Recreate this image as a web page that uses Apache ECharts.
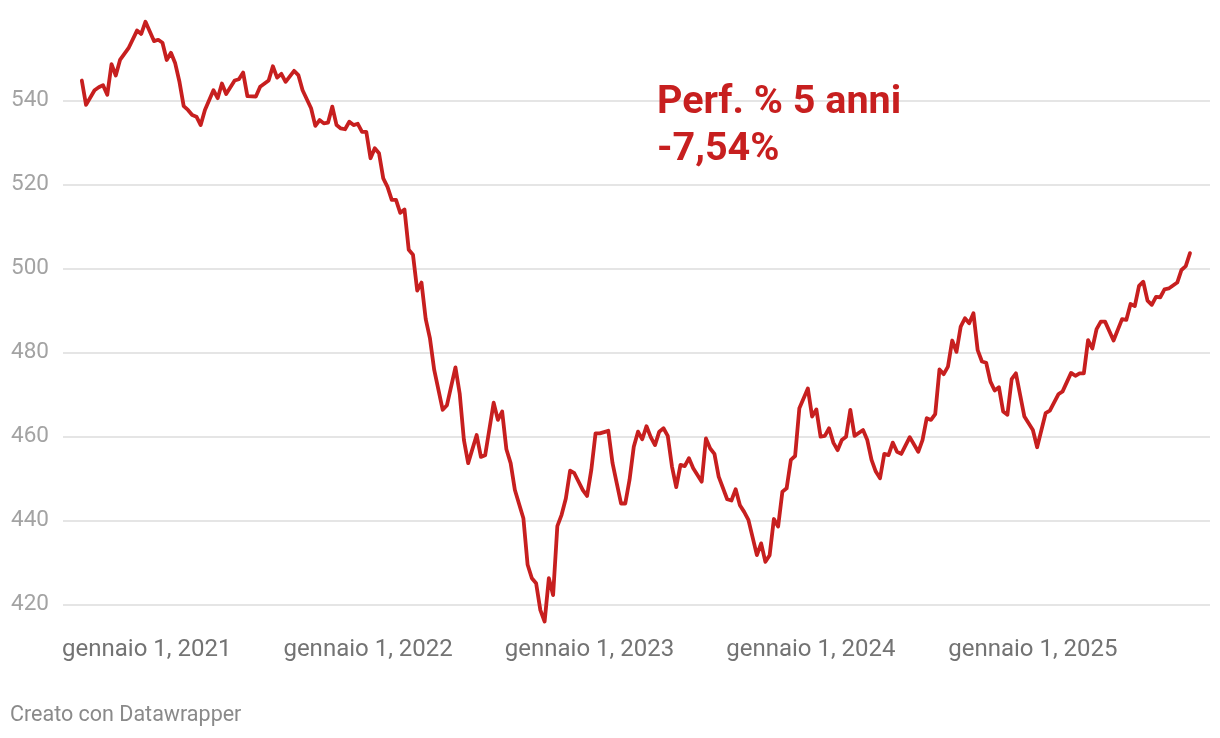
<!DOCTYPE html>
<html>
<head>
<meta charset="utf-8">
<style>
  html, body { margin: 0; padding: 0; background: #ffffff; }
  #chart { width: 1220px; height: 738px; }
</style>
<script src="https://cdn.jsdelivr.net/npm/echarts@6/dist/echarts.min.js"></script>
</head>
<body>
<div id="chart"></div>
<script>
// Weekly closes, starting the week of 16 Sept 2020 (week index 0)
const startDate = [2020, 8, 16];
const weekIndex = [0,1,3,4,5,6,7,8,9,11,13,14,15,17,18,19,20,21,22,23,24,25,26,27,28,29,31,32,33,34,36,37,38,39,41,42,44,45,46,47,48,50,51,52,54,55,56,57,58,59,60,61,62,63,64,65,66,67,68,69,70,71,72,73,74,75,76,77,78,79,80,81,82,83,85,86,88,89,90,91,93,94,95,97,98,99,100,101,102,104,105,106,107,108,109,110,111,112,113,114,115,116,118,119,120,121,122,124,125,126,127,128,129,130,131,132,133,134,135,136,137,138,139,140,141,142,143,144,146,147,148,149,150,152,153,154,155,156,157,159,160,161,162,163,164,165,166,167,168,169,171,172,173,174,175,176,177,178,179,180,181,182,184,185,186,187,188,189,190,191,192,193,195,197,198,199,200,201,202,203,204,205,206,207,208,209,210,211,212,213,214,215,216,217,218,219,220,222,223,224,225,227,228,230,231,233,234,235,236,237,238,239,240,241,243,245,246,247,248,249,250,251,252,253,254,255,256,258,259,260,261];
const closeValues = [544.8,539.0,542.5,543.2,543.7,541.4,548.7,546.0,549.7,552.5,556.7,555.9,558.8,554.2,554.5,553.8,549.7,551.4,548.9,544.5,538.7,537.8,536.6,536.2,534.2,537.8,542.5,540.6,544.1,541.6,544.8,545.1,546.7,541.1,541.0,543.3,544.8,548.2,545.5,546.4,544.5,547.1,546.1,542.5,538.2,534.0,535.4,534.6,534.8,538.6,534.2,533.4,533.2,535.0,534.2,534.5,532.6,532.6,526.3,528.7,527.5,521.5,519.5,516.4,516.4,513.3,514.1,504.5,503.3,494.8,496.7,488.0,483.4,475.9,466.4,467.5,476.5,470.3,459.2,453.7,460.4,455.2,455.6,468.1,464.0,466.0,457.0,453.7,447.3,440.6,429.5,426.3,425.1,418.7,416.0,426.3,422.3,438.7,441.4,445.3,451.9,451.3,447.3,445.9,452.1,460.8,460.8,461.4,453.7,448.9,444.1,444.1,449.7,457.6,461.2,459.4,462.5,459.9,458.0,461.2,462.0,460.2,452.9,448.0,453.3,453.0,454.9,452.5,449.3,459.6,457.2,455.9,450.5,445.1,444.8,447.5,443.7,442.1,440.2,431.8,434.6,430.2,431.8,440.4,438.6,446.9,447.7,454.5,455.4,466.8,471.5,464.8,466.5,460.0,460.2,462.0,458.6,456.8,459.2,460.0,466.4,460.2,461.6,459.2,454.5,451.7,450.1,455.9,455.6,458.6,456.4,455.9,459.9,456.4,459.2,464.4,464.0,465.4,476.0,474.9,476.7,482.9,480.2,486.2,488.2,487.0,489.4,480.6,477.9,477.6,473.1,471.0,471.8,466.0,465.2,473.7,475.1,464.8,463.2,461.6,457.5,465.6,466.2,470.1,470.8,475.2,474.5,475.1,475.1,483.0,481.0,485.6,487.4,487.4,482.9,488.0,487.8,491.6,491.1,495.9,496.9,492.4,491.4,493.3,493.2,495.1,495.3,496.7,499.7,500.6,503.7];
const yTicks = [420, 440, 460, 480, 500, 520, 540];
const monthName = 'gennaio';
const annotationLines = ['Perf. % 5 anni', '-7,54%'];
const footerText = 'Creato con Datawrapper';

const DAY = 86400000;
const t0 = new Date(startDate[0], startDate[1], startDate[2]).getTime();
const seriesData = weekIndex.map((w, i) => [t0 + w * 7 * DAY, closeValues[i]]);
const firstT = seriesData[0][0];
const lastT = seriesData[seriesData.length - 1][0];

const RED = '#c71f1f';
const chart = echarts.init(document.getElementById('chart'), null, { renderer: 'canvas' });
chart.setOption({
  animation: false,
  backgroundColor: '#ffffff',
  grid: { left: 63, right: 10, top: 16.7, bottom: 133.3, containLabel: false },
  xAxis: {
    type: 'time',
    min: firstT - 31 * DAY,
    max: lastT + 33 * DAY,
    minInterval: 365 * DAY,
    axisLine: { show: false },
    axisTick: { show: false },
    splitLine: { show: false },
    axisLabel: {
      showMinLabel: false,
      showMaxLabel: false,
      margin: 33,
      color: '#737373',
      fontFamily: 'Roboto',
      fontSize: 24,
      formatter: function (val) {
        const d = new Date(val);
        if (d.getMonth() === 0 && d.getDate() === 1) return monthName + ' 1, ' + d.getFullYear();
        return '';
      }
    }
  },
  yAxis: {
    type: 'value',
    min: yTicks[0],
    max: 560,
    interval: yTicks[1] - yTicks[0],
    axisLine: { show: false },
    axisTick: { show: false },
    splitLine: { show: true, showMaxLine: false, lineStyle: { color: '#e5e5e5', width: 2 } },
    axisLabel: {
      showMaxLabel: false,
      align: 'left',
      margin: 52,
      color: '#a3a3a3',
      fontFamily: 'Roboto',
      fontSize: 22.5,
      formatter: function (v) { return yTicks.indexOf(v) >= 0 ? String(v) : ''; }
    }
  },
  series: [{
    type: 'line',
    data: seriesData,
    symbol: 'none',
    smooth: false,
    clip: false,
    lineStyle: { color: RED, width: 3.8, join: 'round', cap: 'round' },
    z: 5
  }],
  graphic: [
    { type: 'text', left: 657, top: 83, z: 100, style: { text: annotationLines[0], fill: RED, font: 'bold 39.5px Roboto' } },
    { type: 'text', left: 657, top: 130.5, z: 100, style: { text: annotationLines[1], fill: RED, font: 'bold 39.5px Roboto' } },
    { type: 'text', left: 10, top: 704.5, z: 100, style: { text: footerText, fill: '#8a8a8a', font: '21.5px Roboto' } }
  ]
});
</script>
</body>
</html>
